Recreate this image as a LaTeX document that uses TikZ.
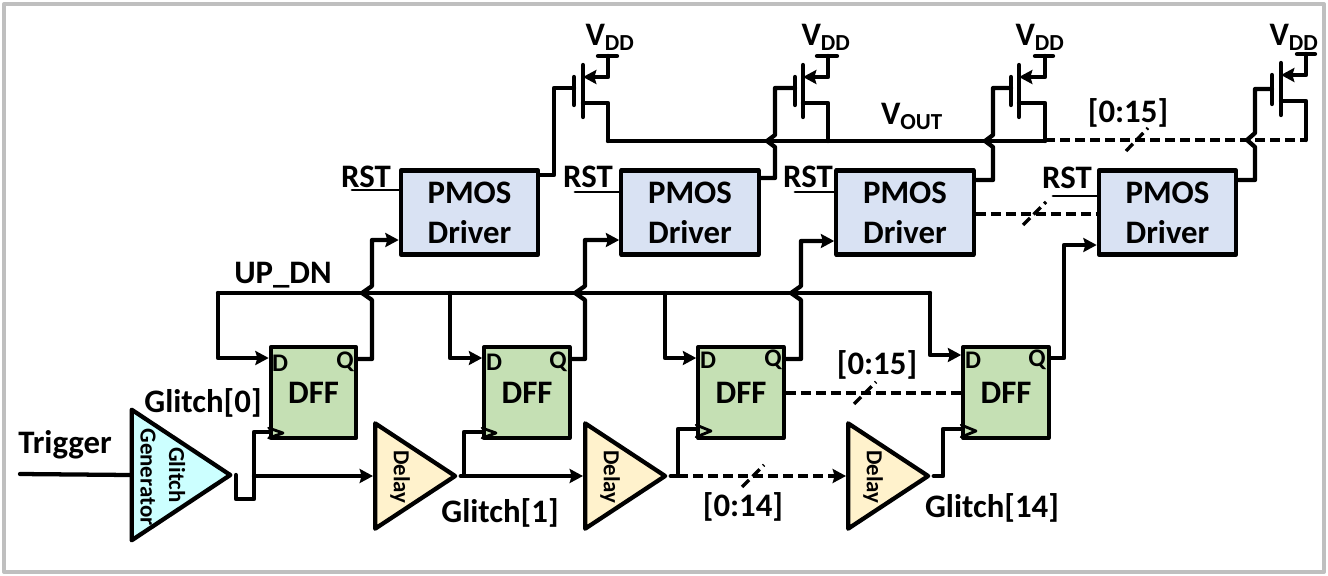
\documentclass[tikz,border=0pt]{standalone}
\usepackage{fontspec}
\setmainfont{Carlito}
\usetikzlibrary{arrows.meta,shapes.geometric}
\definecolor{drvblue}{HTML}{D9E2F3}
\definecolor{dffgreen}{HTML}{C5E0B4}
\definecolor{dlyyellow}{HTML}{FFF2CC}
\definecolor{gencyan}{HTML}{CCFFFF}
\tikzset{
	wire/.style={line width=3.2pt,line join=round,line cap=round},
	thinwire/.style={line width=2.1pt},
	dashwire/.style={line width=2.5pt,line cap=butt,dash pattern=on 7.5pt off 3.75pt},
	drvbox/.style={draw,line width=3.2pt,fill=drvblue,minimum width=103pt,minimum height=63pt,inner sep=0pt,align=center,font=\fontsize{24.6}{30}\selectfont\bfseries},
	dffbox/.style={draw,line width=3.2pt,fill=dffgreen,minimum width=64pt,minimum height=68pt,inner sep=0pt,font=\fontsize{24.6}{28}\selectfont\bfseries},
	dlytri/.style={draw,line width=3.2pt,fill=dlyyellow,shape=isosceles triangle,isosceles triangle stretches,minimum height=60pt,minimum width=79pt,inner sep=0pt,anchor=lower side},
	gentri/.style={draw,line width=3.2pt,fill=gencyan,shape=isosceles triangle,isosceles triangle stretches,minimum height=74pt,minimum width=98pt,inner sep=0pt,anchor=lower side},
	lbl/.style={font=\fontsize{24.6}{28}\selectfont\bfseries,inner sep=0pt},
	pinlbl/.style={font=\fontsize{19}{22}\selectfont\bfseries,inner sep=0pt},
	tilbl/.style={font=\fontsize{17.2}{18}\selectfont\bfseries,inner sep=0pt,rotate=-90},
}
\begin{document}
\begin{tikzpicture}[line cap=round,line join=round,>={Stealth[length=10pt,width=10.5pt,inset=1.5pt]},x=0.75pt,y=-0.75pt]
	\useasboundingbox (0,0) rectangle (1328,575);
	\draw[line width=3pt,color=black!25] (4,4) rectangle (1324,572);
	% drivers and flip-flops
	\node[drvbox] (drv1) at (469.5,212.5) {PMOS\\Driver};
	\node[drvbox] (drv2) at (690,212.5) {PMOS\\Driver};
	\node[drvbox] (drv3) at (905,212.5) {PMOS\\Driver};
	\node[drvbox] (drv4) at (1167.5,212.5) {PMOS\\Driver};
	\node[dffbox] (dff1) at (313.5,392.5) {DFF};
	\node[dffbox] (dff2) at (527,392.5) {DFF};
	\node[dffbox] (dff3) at (741,392.5) {DFF};
	\node[dffbox] (dff4) at (1006,392.5) {DFF};
	\node[gentri] (gen) at (129.5,475) {};
	\node[dlytri] (dly1) at (373,476) {};
	\node[dlytri] (dly2) at (583,476) {};
	\node[dlytri] (dly3) at (846,476) {};
	\node[tilbl] (gentxt) at (148,477) {Generator};
	\node[tilbl] (gentxt2) at (177,475) {Glitch};
	\node[tilbl] (dlytxt1) at (400,477) {Delay};
	\node[tilbl] (dlytxt2) at (610,477) {Delay};
	\node[tilbl] (dlytxt3) at (873,477) {Delay};
	% clock marks
	\draw[thinwire] (dff1.west |- 0,428) -- (283,433) -- (dff1.west |- 0,438);
	\draw[thinwire] (dff2.west |- 0,428) -- (496,433) -- (dff2.west |- 0,438);
	\draw[thinwire] (dff3.west |- 0,425) -- (711,431) -- (dff3.west |- 0,437);
	\draw[thinwire] (dff4.west |- 0,425) -- (976,431) -- (dff4.west |- 0,437);
	% input side
	\draw[wire] (20,474) -- (gen.lower side);
	\draw[wire] (gen.apex) -- (gen.apex |- 0,499) -- (254,499) -- (254,432) -- (dff1.west |- 0,432);
	\draw[wire,->] (254,476) -- (dly1.lower side);
	\draw[wire] (dly1.apex) -- (464,476) -- (464,432) -- (dff2.west |- 0,432);
	\draw[wire,->] (464,476) -- (dly2.lower side);
	\draw[wire] (dly2.apex) -- (678,476) -- (678,429) -- (dff3.west |- 0,429);
	\draw[dashwire,->] (678,476) -- (dly3.lower side);
	\draw[wire] (dly3.apex) -- (943,476) -- (943,429) -- (dff4.west |- 0,429);
	% UP_DN bus
	\draw[wire] (218,293) -- (930,293);
	\draw[wire,->] (218,293) -- (218,358) -- (dff1.west |- 0,358);
	\draw[wire,->] (450,293) -- (450,358) -- (dff2.west |- 0,358);
	\draw[wire,->] (665,293) -- (665,358) -- (dff3.west |- 0,358);
	\draw[wire,->] (930,293) -- (930,355) -- (dff4.west |- 0,355);
	\draw[wire,->] (dff1.east |- 0,359) -- (372,359) -- (372,300) -- (362,293) -- (372,286) -- (372,240) -- (drv1.west |- 0,240);
	\draw[wire,->] (dff2.east |- 0,359) -- (585,359) -- (585,300) -- (575,293) -- (585,286) -- (585,240) -- (drv2.west |- 0,240);
	\draw[wire,->] (dff3.east |- 0,359) -- (801,359) -- (801,300) -- (791,293) -- (801,286) -- (801,241) -- (drv3.west |- 0,241);
	\draw[wire,->] (dff4.east |- 0,358) -- (1064,358) -- (1064,245) -- (drv4.west |- 0,245);
	% resets
	\draw[thinwire] (352,190) -- (drv1.west |- 0,190);
	\draw[thinwire] (575,192) -- (drv2.west |- 0,192);
	\draw[thinwire] (795,192) -- (drv3.west |- 0,192);
	\draw[thinwire] (1053,196) -- (drv4.west |- 0,196);
	% output transistors
	\draw[wire] (583,65) -- (583,117);
	\draw[wire] (574,77) -- (574,105);
	\draw[wire] (drv1.east |- 0,175) -- (554,175) -- (554,88) -- (574,88);
	\draw[wire,->] (608,56) -- (608,77) -- (583,77);
	\draw[wire] (598,56) -- (617,56);
	\draw[wire] (583,103) -- (608,103) -- (608,141);
	\draw[wire] (803,65) -- (803,117);
	\draw[wire] (795,77) -- (795,105);
	\draw[wire] (drv2.east |- 0,178) -- (775,178) -- (775,147) -- (767,141) -- (775,135) -- (775,88) -- (795,88);
	\draw[wire,->] (828,56) -- (828,77) -- (803,77);
	\draw[wire] (817,56) -- (837,56);
	\draw[wire] (803,103) -- (828,103) -- (828,141);
	\draw[wire] (1019,65) -- (1019,117);
	\draw[wire] (1011,77) -- (1011,105);
	\draw[wire] (drv3.east |- 0,180) -- (993,180) -- (993,147) -- (985,141) -- (993,135) -- (993,88) -- (1011,88);
	\draw[wire,->] (1045,56) -- (1045,77) -- (1019,77);
	\draw[wire] (1035,56) -- (1053,56);
	\draw[wire] (1019,103) -- (1045,103) -- (1045,141);
	\draw[wire] (1281,63) -- (1281,115);
	\draw[wire] (1272,75) -- (1272,104);
	\draw[wire] (drv4.east |- 0,180) -- (1255,180) -- (1255,147) -- (1247,140) -- (1255,133) -- (1255,89) -- (1272,89);
	\draw[wire,->] (1306,54) -- (1306,75) -- (1281,75);
	\draw[wire] (1297,54) -- (1315,54);
	\draw[wire] (1281,101) -- (1306,101) -- (1306,140);
	\draw[wire] (608,141) -- (1045,141);
	\draw[dashwire] (1045,140) -- (1306,140);
	% bus dashes
	\draw[dashwire] (dff3.east |- 0,393) -- (dff4.west |- 0,393);
	\draw[dashwire] (drv3.east |- 0,214) -- (drv4.west |- 0,214);
	\draw[dashwire] (854,404) -- (876,382);
	\draw[dashwire] (742,487) -- (764,465);
	\draw[dashwire] (1023,225) -- (1046,202);
	\draw[dashwire] (1126,151) -- (1148,128);
	% labels
	\node[lbl] (vdd1) at (610,37) {V\textsubscript{DD}};
	\node[lbl] (vdd2) at (826,37) {V\textsubscript{DD}};
	\node[lbl] (vdd3) at (1040,37) {V\textsubscript{DD}};
	\node[lbl] (vdd4) at (1294,37) {V\textsubscript{DD}};
	\node[lbl] (vout) at (912,116) {V\textsubscript{OUT}};
	\node[lbl] (rst1) at (366,177) {RST};
	\node[lbl] (rst2) at (588,177) {RST};
	\node[lbl] (rst3) at (808,177) {RST};
	\node[lbl] (rst4) at (1067,178) {RST};
	\node[lbl] (updn) at (283,275) {UP\_DN};
	\node[lbl] (bus1) at (1128,113) {[0:15]};
	\node[lbl] (bus2) at (877,365) {[0:15]};
	\node[lbl] (bus3) at (743,507) {[0:14]};
	\node[lbl] (trig) at (65,445) {Trigger};
	\node[lbl] (gl0) at (203,403) {Glitch[0]};
	\node[lbl] (gl1) at (500,513) {Glitch[1]};
	\node[lbl] (gl14) at (992,508) {Glitch[14]};
	\node[pinlbl] (d1) at (280,363) {D};
	\node[pinlbl] (q1) at (345,362) {Q};
	\node[pinlbl] (d2) at (494,362) {D};
	\node[pinlbl] (q2) at (558,362) {Q};
	\node[pinlbl] (d3) at (708,360) {D};
	\node[pinlbl] (q3) at (773,360) {Q};
	\node[pinlbl] (d4) at (973,360) {D};
	\node[pinlbl] (q4) at (1037,360) {Q};
\end{tikzpicture}
\end{document}
